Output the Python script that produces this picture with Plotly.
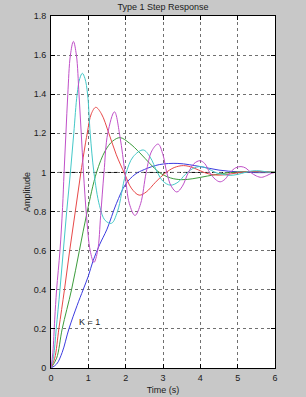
import plotly.graph_objects as go

# ---- data ----
t_blue = [0, 0.15, 0.3, 0.48, 0.7, 0.86, 1.0, 1.13, 1.3, 1.5, 1.75, 2.0, 2.25, 2.5, 2.9, 3.4, 4.0, 4.5, 5.0, 5.5, 6.0]
y_blue = [0, 0.02, 0.08, 0.2, 0.32, 0.4, 0.47, 0.55, 0.63, 0.71, 0.84, 0.94, 0.99, 1.015, 1.04, 1.046, 1.03, 1.012, 1.003, 0.999, 1.0]

t_green = [0, 0.15, 0.3, 0.55, 0.76, 0.97, 1.22, 1.45, 1.65, 1.85, 2.1, 2.38, 2.65, 2.9, 3.2, 3.5, 3.8, 4.2, 4.6, 5.0, 5.5, 6.0]
y_green = [0, 0.05, 0.2, 0.4, 0.6, 0.8, 1.0, 1.11, 1.16, 1.178, 1.15, 1.1, 1.045, 1.0, 0.972, 0.963, 0.968, 0.982, 0.995, 1.002, 1.004, 1.002]

t_red = [0, 0.1, 0.21, 0.36, 0.5, 0.65, 0.8, 0.97, 1.08, 1.2, 1.35, 1.55, 1.75, 1.98, 2.15, 2.36, 2.55, 2.8, 3.05, 3.3, 3.55, 3.8, 4.1, 4.35, 4.6, 4.9, 5.2, 5.6, 6.0]
y_red = [0, 0.05, 0.2, 0.4, 0.6, 0.8, 1.0, 1.2, 1.3, 1.333, 1.3, 1.2, 1.09, 0.99, 0.92, 0.884, 0.9, 0.95, 0.995, 1.025, 1.035, 1.025, 1.0, 0.988, 0.987, 0.995, 1.003, 1.004, 1.0]

t_cyan = [0, 0.07, 0.14, 0.24, 0.33, 0.42, 0.52, 0.61, 0.7, 0.77, 0.84, 0.91, 0.98, 1.05, 1.15, 1.3, 1.45, 1.62, 1.78, 2.0, 2.2, 2.47, 2.65, 2.85, 3.0, 3.2, 3.4, 3.6, 3.8, 4.0, 4.2, 4.4, 4.6, 4.8, 5.0, 5.2, 5.4, 5.6, 5.8, 6.0]
y_cyan = [0, 0.06, 0.2, 0.4, 0.6, 0.8, 1.0, 1.2, 1.4, 1.48, 1.507, 1.48, 1.4, 1.2, 1.0, 0.83, 0.755, 0.74, 0.8, 0.99, 1.08, 1.115, 1.08, 1.0, 0.955, 0.935, 0.95, 0.99, 1.02, 1.03, 1.02, 1.0, 0.99, 0.985, 0.99, 1.0, 1.008, 1.008, 1.002, 1.0]

t_mag = [0, 0.05, 0.1, 0.15, 0.24, 0.31, 0.35, 0.4, 0.45, 0.52, 0.6, 0.68, 0.75, 0.81, 0.87, 0.95, 1.05, 1.15, 1.25, 1.33, 1.42, 1.52, 1.7, 1.85, 1.98, 2.1, 2.25, 2.4, 2.55, 2.7, 2.87, 3.0, 3.1, 3.22, 3.37, 3.52, 3.68, 3.83, 3.99, 4.12, 4.25, 4.4, 4.53, 4.66, 4.8, 4.95, 5.09, 5.22, 5.35, 5.5, 5.64, 5.78, 5.9, 6.0]
y_mag = [0, 0.08, 0.25, 0.4, 0.6, 0.82, 1.0, 1.2, 1.4, 1.6, 1.67, 1.6, 1.4, 1.2, 1.0, 0.78, 0.6, 0.54, 0.6, 0.78, 1.0, 1.2, 1.31, 1.18, 1.0, 0.84, 0.78, 0.84, 1.0, 1.11, 1.145, 1.09, 1.0, 0.93, 0.9, 0.93, 1.0, 1.045, 1.06, 1.045, 1.0, 0.965, 0.952, 0.965, 1.0, 1.024, 1.03, 1.022, 1.0, 0.982, 0.975, 0.984, 0.995, 1.0]

steady_state = [1.0]
x_ticks = [0, 1, 2, 3, 4, 5, 6]
y_ticks = [0, 0.2, 0.4, 0.6, 0.8, 1, 1.2, 1.4, 1.6, 1.8]
y_ticklabels = ["0", "0.2", "0.4", "0.6", "0.8", "1", "1.2", "1.4", "1.6", "1.8"]
label_text = "K = 1"
label_pos = (1.02, 0.235)

series = [
    (t_blue, y_blue, "#3c3ce0"),
    (t_green, y_green, "#3c9c3c"),
    (t_red, y_red, "#e84848"),
    (t_cyan, y_cyan, "#44c8c8"),
    (t_mag, y_mag, "#c050c8"),
]

fig = go.Figure()
FONT = "Liberation Sans, Arial, sans-serif"

fig.add_hline(y=steady_state[0], line=dict(color="black", width=1, dash="4px,3px"), layer="below")

for t, y, c in series:
    fig.add_trace(go.Scatter(x=t, y=y, mode="lines",
                             line=dict(color=c, width=1, shape="spline", smoothing=1.0),
                             showlegend=False, hoverinfo="skip"))

fig.add_annotation(x=label_pos[0], y=label_pos[1], text=label_text, showarrow=False,
                   font=dict(family=FONT, size=9, color="#202020"))

axis_common = dict(
    showgrid=True, gridcolor="#707070", gridwidth=1, griddash="3px,3px",
    zeroline=False, showline=True, linecolor="black", linewidth=1, mirror="ticks",
    ticks="inside", ticklen=4, tickcolor="black", automargin=False,
    tickfont=dict(family=FONT, size=9, color="#202020"),
)

fig.update_xaxes(range=[0, 6], tickvals=x_ticks, ticktext=[str(v) for v in x_ticks],
                 ticklabelstandoff=1,
                 title=dict(text="Time (s)", font=dict(family=FONT, size=9, color="#202020"), standoff=4),
                 **axis_common)
fig.update_yaxes(range=[0, 1.8], tickvals=y_ticks, ticktext=y_ticklabels,
                 ticklabelstandoff=2,
                 title=dict(text="Amplitude", font=dict(family=FONT, size=9, color="#202020"), standoff=1),
                 **axis_common)

fig.update_layout(
    width=306, height=397,
    margin=dict(l=51, r=31, t=16, b=29, pad=0, autoexpand=False),
    paper_bgcolor="#c8c8c8", plot_bgcolor="white",
    title=dict(text="Type 1 Step Response", x=0.533, xanchor="center", y=0.982, yanchor="middle",
               font=dict(family=FONT, size=9, color="#202020")),
)

fig.write_html("out.html", config={"displayModeBar": False})
